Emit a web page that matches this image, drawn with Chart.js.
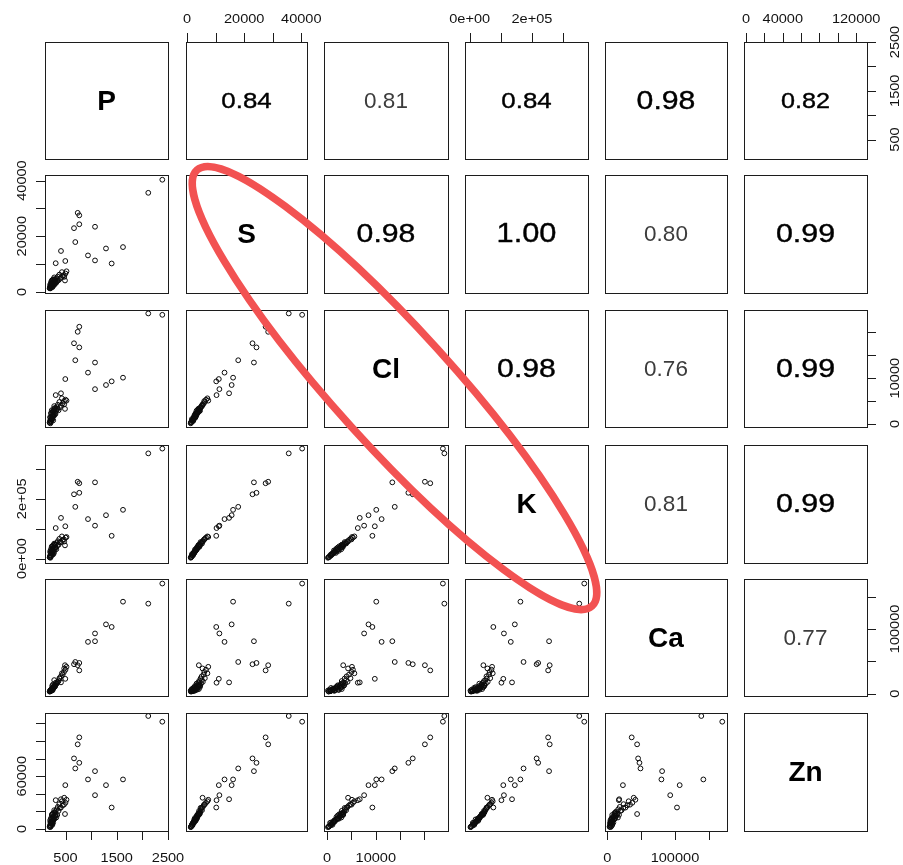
<!DOCTYPE html>
<html>
<head>
<meta charset="utf-8">
<title>Element pairs</title>
<script src="https://cdn.jsdelivr.net/npm/chart.js@4.4.1/dist/chart.umd.min.js"></script>
<style>
  html, body { margin: 0; padding: 0; background: #ffffff; }
  #sheet { position: relative; width: 903px; height: 865px; overflow: hidden; }
  #sheet canvas { position: absolute; }
</style>
</head>
<body>
<div id="sheet"></div>
<script>
// ---- data: one entry per sample, same order in every array ----
const variables = ['P', 'S', 'Cl', 'K', 'Ca', 'Zn'];

const P  = [2115, 2389, 769, 738, 666, 769, 691, 1076, 939, 1622, 496, 1290, 1076, 1401, 412, 309,
            190, 205, 198, 215, 230, 210, 245, 222, 260, 200, 275, 235, 290, 250, 220, 305, 268, 240, 320,
            285, 255, 340, 300, 365, 330, 280, 390, 350, 410, 445, 380, 470, 500, 430, 520, 490, 475,
            195, 212, 225, 238, 248, 262, 218, 272, 296, 232, 258, 310, 206, 242, 280];
const S  = [35600, 40300, 27500, 28400, 22900, 24300, 17900, 23400, 13100, 16100, 11100, 15600, 11300, 10200, 14700, 10300,
            1300, 1250, 1600, 1500, 1800, 2000, 1700, 2300, 2200, 2600, 2500, 2900, 2750, 3200, 3000, 3400, 3600, 3800, 3300,
            4000, 4300, 3900, 4600, 4200, 4900, 5200, 4700, 5500, 5100, 5800, 6200, 6000, 6600, 7100, 7400, 4100, 5400,
            1450, 1900, 2100, 2400, 2700, 3100, 3500, 2850, 3700, 4100, 4500, 3900, 2250, 3300, 4400];
const Cl = [24100, 23800, 21200, 20100, 17600, 16700, 13900, 13400, 11200, 10100, 9800, 8500, 7600, 9300, 6700, 6300,
            300, 150, 700, 450, 900, 600, 1100, 1300, 800, 1500, 1800, 1400, 2100, 1900, 2400, 2200, 2700, 2500, 2900,
            3100, 2800, 3300, 3500, 3000, 3700, 3900, 3600, 4200, 4000, 4500, 4800, 5000, 5300, 5600, 5100, 3300, 4300,
            350, 750, 1000, 1200, 1600, 1750, 2300, 2000, 2600, 3000, 2900, 3200, 1400, 2150, 3400];
const K  = [352000, 368000, 252000, 257000, 215000, 220000, 173000, 255000, 132000, 163000, 108000, 145000, 110000, 76000, 136000, 102000,
            4000, 2500, 9000, 6000, 12000, 10000, 15000, 20000, 14000, 24000, 19000, 27000, 30000, 33000, 26000, 37000, 35000, 41000, 31000,
            45000, 39000, 43000, 48000, 46000, 52000, 50000, 55000, 58000, 54000, 62000, 66000, 64000, 70000, 74000, 72000, 44000, 57000,
            5000, 11000, 16000, 18000, 22000, 28000, 32000, 25000, 36000, 40000, 44000, 38000, 19000, 30000, 47000];
const Ca = [139000, 170000, 36000, 44000, 45500, 47500, 49000, 81000, 80000, 142000, 23000, 107000, 93000, 103000, 17500, 17000,
            3300, 4800, 4100, 6100, 5200, 3800, 7400, 6600, 8900, 4500, 10200, 7900, 11800, 9500, 5900, 13000, 8700, 12100, 15600,
            10800, 14200, 17200, 12900, 19600, 16100, 21000, 23500, 18400, 26800, 29500, 24000, 33500, 37000, 31500, 41500, 44000, 39000,
            3600, 4400, 5600, 6900, 5300, 8200, 6300, 9900, 11300, 7200, 10500, 14600, 5000, 7700, 12500];
const Zn = [128400, 121900, 104100, 96200, 80200, 75200, 68800, 65700, 56300, 56300, 49800, 49800, 38400, 24400, 33800, 32700,
            2400, 2100, 4500, 3300, 5600, 6900, 4800, 8300, 7400, 9800, 10900, 9200, 12500, 13600, 11600, 15400, 14300, 16800, 13000,
            18100, 17300, 16000, 19800, 20600, 22400, 21300, 23900, 25100, 24300, 26900, 28200, 27600, 29800, 31500, 33200, 17000, 35500,
            2800, 4200, 6200, 7100, 8800, 10200, 12300, 11000, 14800, 15900, 17600, 16300, 7800, 12100, 18700];

// axis extents of each variable
const rangeP  = [100, 2500];
const rangeS  = [-400, 42000];
const rangeCl = [-650, 24850];
const rangeK  = [-15000, 380000];
const rangeCa = [-3500, 177000];
const rangeZn = [-2300, 131800];

// tick marks and the labels printed beside them
const ticksP  = [500, 1000, 1500, 2000, 2500];
const ticksS  = [0, 10000, 20000, 30000, 40000];
const ticksCl = [0, 5000, 10000, 15000, 20000];
const ticksK  = [0, 100000, 200000, 300000];
const ticksCa = [0, 50000, 100000, 150000];
const ticksZn = [0, 20000, 40000, 60000, 80000, 100000, 120000];

const labelsP     = [500, 1500, 2500];
const labelsS     = [0, 20000, 40000];
const labelsCl    = [0, 10000];
const labelsK     = [0, 200000];
const labelsCa    = [0, 100000];
const labelsZnTop = [0, 40000, 120000];
const labelsZnLeft = [0, 60000];

// correlation coefficients printed in the upper triangle
const corrP  = [null, 0.84, 0.81, 0.84, 0.98, 0.82];
const corrS  = [null, null, 0.98, 1.00, 0.80, 0.99];
const corrCl = [null, null, null, 0.98, 0.76, 0.99];
const corrK  = [null, null, null, null, 0.81, 0.99];
const corrCa = [null, null, null, null, null, 0.77];

// ---- layout ----
const M = 50;                                   // canvas margin around each panel
const colLeft  = [45, 186, 324, 465, 605, 744];
const colWidth = [123, 121, 124, 123, 122, 123];
const rowTop    = [42, 175, 310, 445, 579, 713];
const rowHeight = [117, 118, 117, 118, 117, 118];
const FONT = "'Liberation Sans', Arial, Helvetica, sans-serif";

const series = [P, S, Cl, K, Ca, Zn];
const ranges = [rangeP, rangeS, rangeCl, rangeK, rangeCa, rangeZn];
const tickSets = [ticksP, ticksS, ticksCl, ticksK, ticksCa, ticksZn];
const xLabelSets = [labelsP, labelsS, labelsCl, labelsK, labelsCa, labelsZnTop];
const yLabelSets = [labelsP, labelsS, labelsCl, labelsK, labelsCa, labelsZnLeft];
const corr = [corrP, corrS, corrCl, corrK, corrCa];

// R style exponent text for the K axis: 2e+05
function expText(v) {
  if (v === 0) return '0e+00';
  const e = Math.floor(Math.log10(Math.abs(v)));
  const m = Math.round(v / Math.pow(10, e));
  return m + 'e+' + String(e).padStart(2, '0');
}
function tickText(varIndex, v) {
  return varIndex === 3 ? expText(v) : String(v);
}

function drawText(ctx, text, x, y, font, stretch, rot, color, weightStroke) {
  ctx.save();
  ctx.translate(x, y);
  if (rot) ctx.rotate(rot);
  ctx.scale(stretch, 1);
  ctx.font = font;
  ctx.fillStyle = color;
  ctx.textAlign = 'center';
  ctx.textBaseline = 'middle';
  ctx.fillText(text, 0, 0);
  if (weightStroke) {
    ctx.strokeStyle = color;
    ctx.lineWidth = weightStroke;
    ctx.lineJoin = 'round';
    ctx.strokeText(text, 0, 0);
  }
  ctx.restore();
}

const TICK = 9;
const tickFont = '13px ' + FONT;

// panel frame, outer axes and cell text
const pairsFrame = {
  id: 'pairsFrame',
  afterDraw(chart, args, opts) {
    const ctx = chart.ctx;
    const a = chart.chartArea;
    const row = opts.row, col = opts.col;
    const xs = chart.scales.x, ys = chart.scales.y;
    ctx.save();
    ctx.strokeStyle = '#1c1c1c';
    ctx.lineWidth = 1;
    ctx.strokeRect(a.left + 0.5, a.top + 0.5, a.right - a.left, a.bottom - a.top);

    // axes: top on columns 1,3,5 ; bottom on 0,2,4 ; left on rows 1,3,5 ; right on 0,2,4
    ctx.beginPath();
    if (row === 0 && col % 2 === 1) {
      tickSets[col].forEach(v => {
        const px = Math.round(xs.getPixelForValue(v)) + 0.5;
        ctx.moveTo(px, a.top); ctx.lineTo(px, a.top - TICK);
      });
      xLabelSets[col].forEach(v => drawText(ctx, tickText(col, v), xs.getPixelForValue(v), a.top - 22.5, tickFont, 1.12, 0, '#111'));
    }
    if (row === 5 && col % 2 === 0) {
      tickSets[col].forEach(v => {
        const px = Math.round(xs.getPixelForValue(v)) + 0.5;
        ctx.moveTo(px, a.bottom); ctx.lineTo(px, a.bottom + TICK);
      });
      xLabelSets[col].forEach(v => drawText(ctx, tickText(col, v), xs.getPixelForValue(v), a.bottom + 27.5, tickFont, 1.12, 0, '#111'));
    }
    if (col === 0 && row % 2 === 1) {
      tickSets[row].forEach(v => {
        const py = Math.round(ys.getPixelForValue(v)) + 0.5;
        ctx.moveTo(a.left, py); ctx.lineTo(a.left - TICK, py);
      });
      yLabelSets[row].forEach(v => drawText(ctx, tickText(row, v), a.left - 22.5, ys.getPixelForValue(v), tickFont, 1.12, -Math.PI / 2, '#111'));
    }
    if (col === 5 && row % 2 === 0) {
      tickSets[row].forEach(v => {
        const py = Math.round(ys.getPixelForValue(v)) + 0.5;
        ctx.moveTo(a.right, py); ctx.lineTo(a.right + TICK, py);
      });
      yLabelSets[row].forEach(v => drawText(ctx, tickText(row, v), a.right + 28.5, ys.getPixelForValue(v), tickFont, 1.12, -Math.PI / 2, '#111'));
    }
    ctx.stroke();

    const cx = (a.left + a.right) / 2;
    const cy = (a.top + a.bottom) / 2;
    if (row === col) {
      drawText(ctx, variables[row], cx, cy + 1.5, 'bold 28px ' + FONT, 1, 0, '#000');
    } else if (row < col) {
      const r = corr[row][col];
      if (r >= 0.82) {
        const size = 27 * r;
        drawText(ctx, r.toFixed(2), cx, cy + 1, size.toFixed(1) + 'px ' + FONT, 1.14, 0, '#000', 0.4);
      } else {
        drawText(ctx, r.toFixed(2), cx, cy + 1, '22.5px ' + FONT, 1.0, 0, '#3c3c3c');
      }
    }
    ctx.restore();
  }
};

const sheet = document.getElementById('sheet');

function panelCanvas(left, top, w, h) {
  const c = document.createElement('canvas');
  c.width = w; c.height = h;
  c.style.left = left + 'px';
  c.style.top = top + 'px';
  c.style.width = w + 'px';
  c.style.height = h + 'px';
  sheet.appendChild(c);
  return c;
}

for (let row = 0; row < 6; row++) {
  for (let col = 0; col < 6; col++) {
    const w = colWidth[col], h = rowHeight[row];
    const canvas = panelCanvas(colLeft[col] - M, rowTop[row] - M, w + 2 * M, h + 2 * M);
    const points = row > col
      ? series[col].map((v, k) => ({ x: v, y: series[row][k] }))
      : [];
    new Chart(canvas, {
      type: 'scatter',
      data: {
        datasets: [{
          data: points,
          pointStyle: 'circle',
          pointRadius: 2.4,
          pointHoverRadius: 2.4,
          borderWidth: 1,
          borderColor: '#0a0a0a',
          backgroundColor: 'rgba(0,0,0,0)'
        }]
      },
      options: {
        responsive: false,
        animation: false,
        events: [],
        layout: { padding: M },
        scales: {
          x: { type: 'linear', display: false, min: ranges[col][0], max: ranges[col][1] },
          y: { type: 'linear', display: false, min: ranges[row][0], max: ranges[row][1] }
        },
        plugins: {
          legend: { display: false },
          tooltip: { enabled: false },
          pairsFrame: { row: row, col: col }
        }
      },
      plugins: [pairsFrame]
    });
  }
}

// ---- red ring around the diagonal, given in grid units (column, row) ----
const ringFrom = [1.087, 0.954];
const ringTo = [3.913, 4.203];
const ringHalfWidth = 58;
const pitchX = 139.8, pitchY = 134.2;

const ringPlugin = {
  id: 'ring',
  afterDraw(chart) {
    const xs = chart.scales.x, ys = chart.scales.y;
    const x1 = xs.getPixelForValue(ringFrom[0]), y1 = ys.getPixelForValue(ringFrom[1]);
    const x2 = xs.getPixelForValue(ringTo[0]), y2 = ys.getPixelForValue(ringTo[1]);
    const ctx = chart.ctx;
    ctx.save();
    ctx.beginPath();
    ctx.ellipse((x1 + x2) / 2, (y1 + y2) / 2, Math.hypot(x2 - x1, y2 - y1) / 2, ringHalfWidth,
                Math.atan2(y2 - y1, x2 - x1), 0, Math.PI * 2);
    ctx.strokeStyle = 'rgb(242, 82, 82)';
    ctx.lineWidth = 7.5;
    ctx.stroke();
    ctx.restore();
  }
};

const overlay = panelCanvas(0, 0, 903, 865);
new Chart(overlay, {
  type: 'scatter',
  data: { datasets: [] },
  options: {
    responsive: false,
    animation: false,
    events: [],
    layout: { padding: 0 },
    scales: {
      x: { type: 'linear', display: false, min: -colLeft[0] / pitchX, max: (903 - colLeft[0]) / pitchX },
      y: { type: 'linear', display: false, reverse: true, min: -rowTop[0] / pitchY, max: (865 - rowTop[0]) / pitchY }
    },
    plugins: { legend: { display: false }, tooltip: { enabled: false } }
  },
  plugins: [ringPlugin]
});
</script>
</body>
</html>
